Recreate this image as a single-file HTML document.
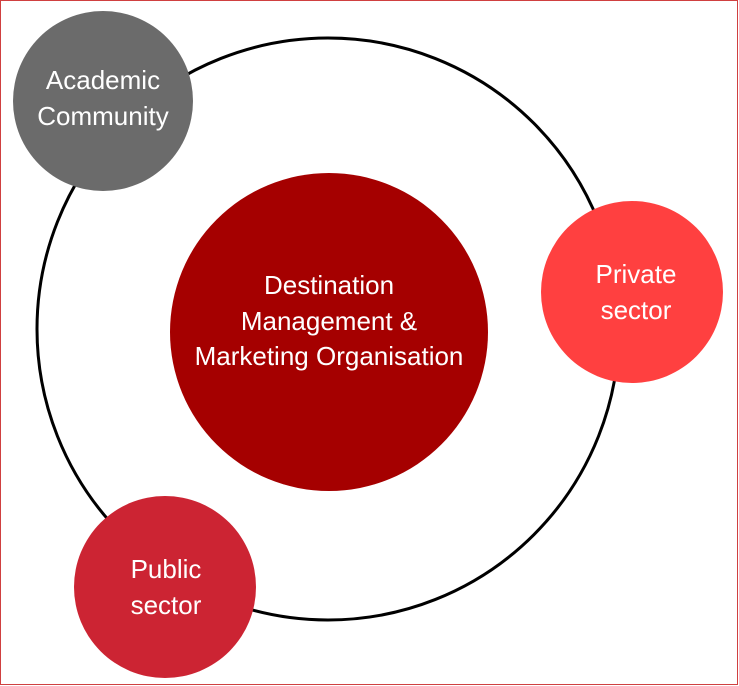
<!DOCTYPE html>
<html><head><meta charset="utf-8"><style>
html,body{margin:0;padding:0;background:#fff;}
svg{display:block;}
text{font-family:"Liberation Sans",sans-serif;font-size:26px;fill:#fff;text-anchor:middle;}
</style></head><body>
<svg width="739" height="686" viewBox="0 0 739 686">
<rect x="0.5" y="0.5" width="737" height="684" fill="#fff" stroke="#d04040" stroke-width="1"/>
<circle cx="328" cy="329" r="291" fill="none" stroke="#000" stroke-width="3"/>
<circle cx="329" cy="332" r="159" fill="#A50000"/>
<text x="329" y="294">Destination</text>
<text x="329" y="330">Management &amp;</text>
<text x="329" y="365">Marketing Organisation</text>
<circle cx="103" cy="101" r="90" fill="#6B6B6B"/>
<text x="103" y="89">Academic</text>
<text x="103" y="125">Community</text>
<circle cx="632" cy="292" r="91" fill="#FF4040"/>
<text x="636" y="283">Private</text>
<text x="636" y="319">sector</text>
<circle cx="165" cy="587" r="91" fill="#CC2433"/>
<text x="166" y="578">Public</text>
<text x="166" y="614">sector</text>
</svg>
</body></html>
